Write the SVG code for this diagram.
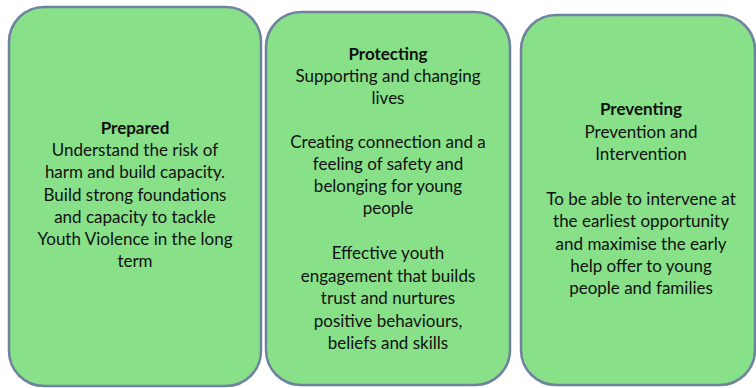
<svg xmlns="http://www.w3.org/2000/svg" width="756" height="388" viewBox="0 0 756 388">
<style>
.box{fill:#88e088;stroke:#6f83a0;stroke-width:2.5}
text{font-family:Lato,"Open Sans","Liberation Sans",sans-serif;font-size:17px;fill:#111;text-anchor:middle}
.t{font-weight:bold}
</style>
<rect width="756" height="388" fill="#ffffff"/>
<g id="prepared">
<rect class="box" x="9" y="7" width="252" height="379" rx="35" ry="35"/>
<text x="135" y="134" class="t">Prepared</text>
<text x="135" y="156.2">Understand the risk of</text>
<text x="135" y="178.4">harm and build capacity.</text>
<text x="135" y="200.6">Build strong foundations</text>
<text x="135" y="222.8">and capacity to tackle</text>
<text x="135" y="245">Youth Violence in the long</text>
<text x="135" y="267.2">term</text>
</g>
<g id="protecting">
<rect class="box" x="266" y="12" width="244" height="373" rx="35" ry="35"/>
<text x="388" y="60" class="t">Protecting</text>
<text x="388" y="82">Supporting and changing</text>
<text x="388" y="104">lives</text>
<text x="388" y="148">Creating connection and a</text>
<text x="388" y="170">feeling of safety and</text>
<text x="388" y="192">belonging for young</text>
<text x="388" y="214">people</text>
<text x="388" y="259">Effective youth</text>
<text x="388" y="281.5">engagement that builds</text>
<text x="388" y="304">trust and nurtures</text>
<text x="388" y="326.5">positive behaviours,</text>
<text x="388" y="348.5">beliefs and skills</text>
</g>
<g id="preventing">
<rect class="box" x="521" y="15" width="234" height="370" rx="35" ry="35"/>
<text x="641" y="115" class="t">Preventing</text>
<text x="641" y="137.5">Prevention and</text>
<text x="641" y="160">Intervention</text>
<text x="641" y="205">To be able to intervene at</text>
<text x="641" y="227">the earliest opportunity</text>
<text x="641" y="249.5">and maximise the early</text>
<text x="641" y="272">help offer to young</text>
<text x="641" y="294">people and families</text>
</g>
<g id="connectors"/>
</svg>
